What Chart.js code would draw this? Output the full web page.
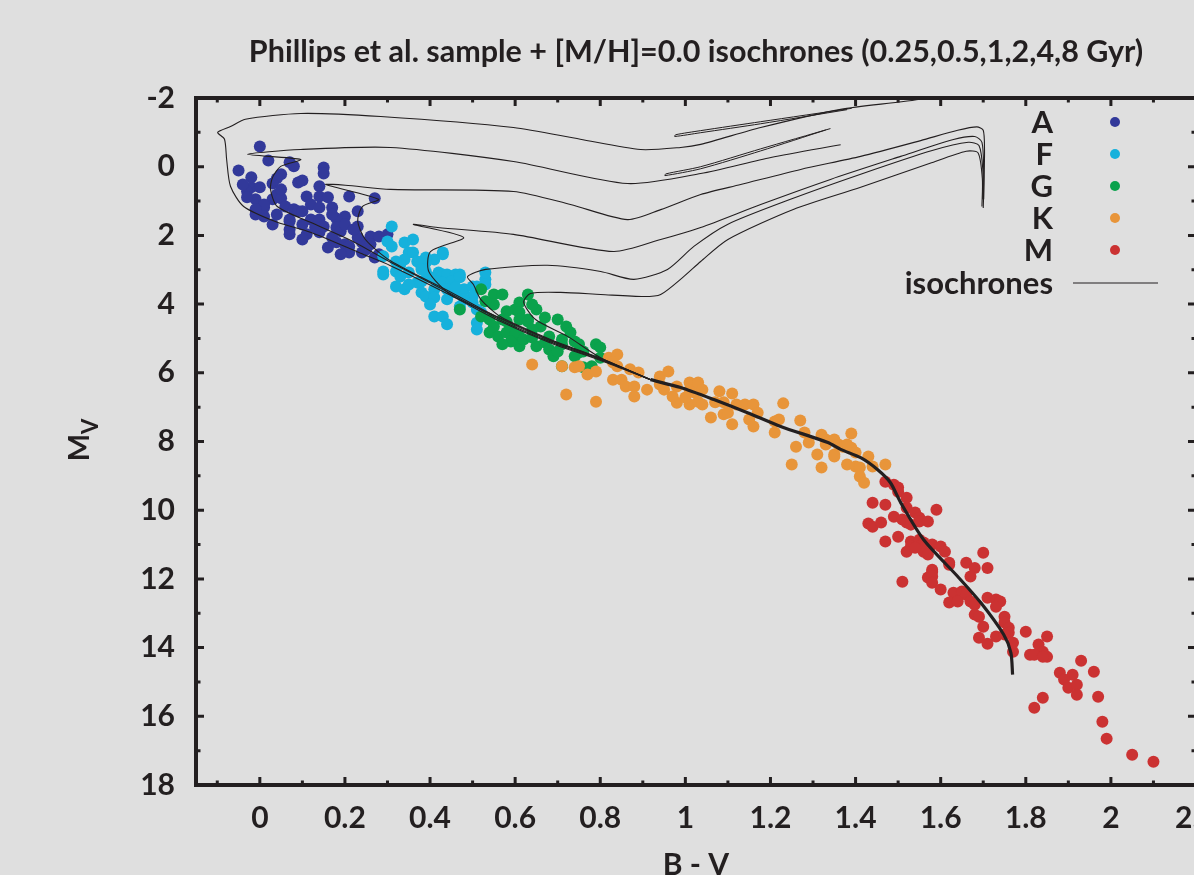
<!DOCTYPE html>
<html>
<head>
<meta charset="utf-8">
<script src="https://cdn.jsdelivr.net/npm/chart.js@4.4.1/dist/chart.umd.min.js"></script>
<style>
  html, body { margin: 0; padding: 0; background: #dfdfdf; overflow: hidden; }
  #wrap { width: 1260px; height: 900px; }
</style>
</head>
<body>
<div id="wrap"><canvas id="hr" width="1260" height="900"></canvas></div>
<script>
// axis tick labels
const xTickValues = [0, 0.2, 0.4, 0.6, 0.8, 1, 1.2, 1.4, 1.6, 1.8, 2, 2.2];
const yTickValues = [-2, 0, 2, 4, 6, 8, 10, 12, 14, 16, 18];

// spectral classes (legend order) and their colours
const classLabels = ['A', 'F', 'G', 'K', 'M'];
const classColors = ['#32399a', '#16b1dc', '#0aa24c', '#e8953a', '#cb3232'];

// stars: [B-V, Mv]
const starsA = [[0.00,-0.59],[0.02,-0.18],[-0.05,0.11],[0.07,-0.13],[0.08,-0.01],[0.05,0.22],[0.04,0.34],[0.03,0.49],[0.09,0.46],[0.10,0.40],
  [0.15,0.02],[0.15,0.20],[0.14,0.57],[-0.02,0.60],[0.00,0.60],[-0.03,0.72],[-0.01,0.95],[0.03,0.95],[0.04,0.81],[0.05,0.92],
  [0.11,0.87],[0.12,1.10],[0.14,0.87],[0.16,0.89],[0.21,0.87],[0.27,0.92],[0.06,1.16],[0.08,1.24],[0.09,1.30],[0.14,1.19],
  [0.17,1.19],[0.23,1.30],[-0.01,1.39],[0.01,1.45],[0.20,1.45],[0.12,1.54],[0.14,1.54],[0.18,1.51],[0.03,1.68],[0.15,1.74],
  [0.18,1.77],[0.19,1.88],[0.23,1.74],[0.07,1.97],[0.07,1.83],[0.11,1.97],[0.14,1.91],[0.16,2.35],[0.18,2.20],[0.20,2.26],
  [0.21,2.32],[0.24,2.20],[0.26,2.03],[0.24,2.50],[0.27,2.64],[0.21,2.50],[0.28,2.03],[0.10,1.68],[0.01,1.19],[0.04,1.39],
  [0.07,1.59],[0.17,2.06],[0.23,2.06],[-0.03,0.89],[0.10,2.12],[0.05,0.66],[-0.02,0.31],[-0.04,0.52],[0.26,2.26],[0.28,2.55],
  [0.30,1.97],[0.01,1.10],[-0.01,1.24],[0.07,1.54],[0.10,1.30],[0.13,1.77],[0.20,1.68],[0.17,1.39],[0.22,1.83],[0.25,2.41],[0.19,2.55]];

const starsF = [[0.31,1.74],[0.34,2.21],[0.36,2.12],[0.30,2.18],[0.31,2.32],[0.35,2.50],[0.36,2.50],[0.34,2.70],[0.33,2.85],[0.29,2.61],
  [0.29,3.05],[0.29,3.14],[0.32,3.05],[0.33,3.20],[0.35,3.08],[0.32,3.49],[0.34,3.57],[0.43,2.50],[0.43,2.55],[0.41,2.70],
  [0.39,2.79],[0.38,2.93],[0.39,3.05],[0.37,3.37],[0.38,3.34],[0.42,3.08],[0.43,3.14],[0.44,3.14],[0.46,3.14],[0.47,3.14],
  [0.42,3.34],[0.43,3.37],[0.45,3.34],[0.47,3.22],[0.38,3.66],[0.39,3.78],[0.41,3.57],[0.41,3.81],[0.44,3.57],[0.45,3.66],
  [0.47,3.66],[0.48,3.57],[0.50,3.49],[0.51,3.49],[0.53,3.28],[0.50,3.78],[0.50,3.95],[0.51,4.16],[0.52,4.24],[0.51,4.54],
  [0.51,4.74],[0.41,4.36],[0.43,4.36],[0.44,4.59],[0.47,4.07],[0.39,2.64],[0.53,3.08],[0.53,3.43],[0.32,2.76],[0.37,2.76],
  [0.40,3.22],[0.35,3.43],[0.46,3.51],[0.48,3.86],[0.44,3.86],[0.40,4.01],[0.38,2.99]];

const starsG = [[0.52,3.57],[0.55,3.72],[0.57,3.72],[0.63,3.72],[0.65,4.16],[0.61,3.95],[0.60,4.16],[0.47,4.16],[0.52,4.36],[0.54,4.45],
  [0.55,4.65],[0.54,4.83],[0.56,4.94],[0.59,4.74],[0.61,4.94],[0.63,4.45],[0.66,4.65],[0.68,4.94],[0.61,5.23],[0.65,5.23],
  [0.57,4.45],[0.58,4.21],[0.58,4.51],[0.61,4.24],[0.61,4.45],[0.63,4.51],[0.58,4.83],[0.60,4.88],[0.59,5.09],[0.62,5.03],
  [0.64,4.97],[0.64,4.74],[0.67,5.12],[0.68,5.32],[0.69,5.52],[0.70,5.38],[0.71,5.03],[0.72,4.65],[0.73,4.83],[0.74,5.09],
  [0.75,5.17],[0.75,5.41],[0.74,5.52],[0.71,5.81],[0.76,5.84],[0.78,5.81],[0.79,5.17],[0.80,5.26],[0.80,5.56],[0.55,4.01],
  [0.53,3.92],[0.64,4.01],[0.70,4.45],[0.67,4.39],[0.76,5.38],[0.71,5.17],[0.57,5.17]];

const starsK = [[0.64,5.76],[0.71,5.81],[0.74,5.84],[0.75,5.81],[0.72,6.63],[0.79,6.84],[0.77,6.05],[0.79,5.96],[0.82,5.56],[0.84,5.47],
  [0.83,5.70],[0.84,5.81],[0.83,6.20],[0.85,6.20],[0.86,6.40],[0.88,6.40],[0.87,5.90],[0.89,5.99],[0.88,6.69],[0.94,6.11],
  [0.96,5.96],[0.94,6.34],[0.95,6.49],[0.98,6.40],[1.01,6.28],[1.01,6.49],[1.02,6.57],[0.98,6.87],[1.01,6.92],[1.03,6.84],
  [0.97,6.69],[1.03,6.28],[1.04,6.49],[1.00,6.72],[1.04,6.92],[1.08,6.54],[1.11,6.60],[1.06,7.30],[1.07,6.86],[1.09,6.86],
  [1.09,7.21],[1.10,7.16],[1.11,7.50],[1.12,6.92],[1.14,6.92],[1.16,6.92],[1.17,7.16],[1.15,7.36],[1.16,7.56],[1.21,7.42],
  [1.21,7.74],[1.22,7.36],[1.23,6.89],[1.27,7.39],[1.28,7.74],[1.26,8.15],[1.25,8.67],[1.29,8.03],[1.31,8.38],[1.32,7.80],
  [1.33,7.94],[1.35,7.94],[1.36,8.09],[1.33,8.09],[1.39,7.77],[1.37,8.15],[1.39,8.18],[1.35,8.38],[1.35,8.44],[1.40,8.32],
  [1.38,8.67],[1.40,8.73],[1.32,8.76],[1.41,8.76],[1.41,9.02],[1.43,8.44],[1.44,8.73],[1.38,8.09],[1.42,9.20],[1.47,8.67],[0.91,6.49]];

const starsM = [[1.47,9.17],[1.49,9.26],[1.50,9.34],[1.50,9.46],[1.52,9.64],[1.44,9.78],[1.47,9.84],[1.52,9.93],[1.59,9.99],[1.54,10.07],
  [1.55,10.22],[1.49,10.19],[1.51,10.27],[1.52,10.36],[1.53,10.42],[1.43,10.39],[1.44,10.48],[1.46,10.36],[1.55,10.33],[1.57,10.33],
  [1.50,10.77],[1.47,10.91],[1.53,10.91],[1.53,11.06],[1.55,10.86],[1.56,10.94],[1.52,11.21],[1.56,11.21],[1.57,11.29],[1.58,11.00],
  [1.60,11.06],[1.61,11.21],[1.62,11.53],[1.58,11.73],[1.66,11.53],[1.68,11.68],[1.71,11.68],[1.70,11.24],[1.54,11.09],[1.57,11.96],
  [1.67,11.93],[1.62,11.59],[1.58,11.79],[1.58,11.93],[1.58,12.11],[1.51,12.08],[1.60,12.31],[1.63,12.40],[1.65,12.37],[1.66,12.46],
  [1.62,12.69],[1.64,12.66],[1.67,12.66],[1.68,12.75],[1.71,12.55],[1.73,12.60],[1.74,12.66],[1.73,12.81],[1.68,13.04],[1.69,13.10],
  [1.75,13.10],[1.75,13.27],[1.70,13.39],[1.76,13.42],[1.76,13.57],[1.80,13.54],[1.73,13.68],[1.69,13.71],[1.71,13.89],[1.77,13.86],
  [1.77,14.12],[1.83,13.91],[1.84,14.12],[1.85,13.68],[1.81,14.21],[1.82,14.21],[1.85,14.27],[1.84,14.27],[1.88,14.73],[1.84,15.46],
  [1.82,15.75],[1.93,14.38],[1.96,14.70],[1.91,14.79],[1.89,14.93],[1.90,15.17],[1.92,15.08],[1.92,15.37],[1.97,15.43],[1.98,16.16],
  [1.99,16.65],[2.05,17.12],[2.10,17.32],[1.75,13.62]];

// isochrones: lower main sequence where all six ages overlap, then one upper part per age
const msLower = [[1.769,14.79],[1.765,14.15],[1.748,13.62],[1.694,12.69],[1.640,11.93],[1.560,10.86],[1.506,9.78],[1.482,9.20],
  [1.452,8.82],[1.412,8.47],[1.365,8.23],[1.335,8.03],[1.224,7.56],[1.146,7.16],[1.067,6.78],[0.989,6.43],[0.918,6.20]];

const iso025 = [[0.918,6.20],[0.801,5.64],[0.683,5.13],[0.566,4.51],[0.448,3.74],[0.307,2.88],[0.237,2.52],[0.119,1.91],[0.041,1.62],[-0.038,1.16],
  [-0.069,0.57],[-0.078,-0.21],[-0.083,-0.80],[-0.099,-1.00],[-0.069,-1.17],[-0.034,-1.38],[0.096,-1.55],[0.284,-1.46],[0.596,-1.14],
  [0.753,-0.80],[0.895,-0.50],[0.989,-0.56],[1.036,-0.65],[1.177,-1.14],[1.365,-1.67],[1.558,-1.98],[1.647,-2.31]];
const iso05 = [[0.918,6.20],[0.801,5.62],[0.683,5.10],[0.566,4.47],[0.448,3.69],[0.307,2.78],[0.213,2.14],[0.119,1.62],[0.041,1.16],[0.025,0.66],
  [0.030,0.31],[0.049,-0.01],[0.096,-0.21],[-0.029,-0.36],[0.096,-0.50],[0.307,-0.56],[0.596,-0.15],[0.864,0.49],[1.036,0.20],
  [1.201,-0.27],[1.365,-0.64]];
const iso1 = [[0.918,6.20],[0.801,5.60],[0.683,5.07],[0.566,4.43],[0.448,3.65],[0.307,2.74],[0.248,2.12],[0.230,1.59],[0.241,1.16],[0.279,0.95],
  [0.155,0.52],[0.201,0.54],[0.307,0.66],[0.596,0.72],[0.730,1.10],[0.864,1.54],[0.942,1.25],[1.036,0.81],[1.130,0.52],[1.271,0.08],
  [1.412,-0.30],[1.553,-0.76],[1.640,-1.06],[1.685,-1.16],[1.700,-1.06],[1.703,-0.50],[1.702,0.37],[1.700,1.20]];
const iso2 = [[0.918,6.20],[0.801,5.59],[0.683,5.05],[0.566,4.41],[0.448,3.72],[0.397,3.05],[0.401,2.47],[0.479,2.06],[0.361,1.68],[0.418,1.77],
  [0.596,1.97],[0.831,2.47],[0.942,2.12],[1.036,1.77],[1.177,1.10],[1.341,0.37],[1.506,-0.30],[1.630,-0.79],[1.680,-0.88],
  [1.697,-0.71],[1.701,0.08],[1.701,0.95]];
const iso4 = [[0.918,6.20],[0.801,5.58],[0.683,5.03],[0.566,4.37],[0.519,3.86],[0.502,3.43],[0.488,3.20],[0.531,2.99],[0.676,2.87],[0.801,3.05],
  [0.879,3.28],[0.958,2.99],[1.020,2.32],[1.099,1.68],[1.247,0.95],[1.412,0.22],[1.580,-0.47],[1.665,-0.71],[1.690,-0.62],
  [1.699,0.08],[1.699,0.95]];
const iso8 = [[0.918,6.20],[0.801,5.56],[0.723,4.94],[0.648,4.45],[0.620,3.95],[0.636,3.69],[0.707,3.66],[0.801,3.72],[0.902,3.78],[0.942,3.72],
  [0.996,3.20],[1.036,2.76],[1.100,2.12],[1.255,1.24],[1.412,0.60],[1.575,-0.10],[1.660,-0.45],[1.688,-0.40],[1.698,0.37],[1.697,1.16]];
// helium-burning loops of the two youngest isochrones
const loop025 = [[1.391,-1.70],[1.177,-1.31],[1.036,-1.05],[0.977,-0.93],[0.975,-0.88],[1.036,-0.99],[1.177,-1.25],[1.380,-1.66]];
const loop05 = [[1.341,-1.11],[1.177,-0.52],[1.036,0.00],[0.954,0.21],[0.952,0.26],[1.036,0.06],[1.177,-0.46],[1.330,-1.07]];

const ink = '#231f20';
const fontFamily = "Lato, 'Open Sans', sans-serif";

const toXY = (pts) => pts.map(([x, y]) => ({x, y}));

const starSets = [starsA, starsF, starsG, starsK, starsM].map((pts, i) => ({
  label: classLabels[i],
  data: toXY(pts),
  backgroundColor: classColors[i],
  borderWidth: 0,
  pointRadius: 6,
  pointHoverRadius: 6,
  order: 10 - i,
}));

const lineSet = (pts, width) => ({
  label: 'isochrones',
  data: toXY(pts),
  showLine: true,
  pointRadius: 0,
  borderColor: ink,
  borderWidth: width,
  tension: 0.25,
  order: 0,
});

const isoSets = [lineSet(msLower, 3.2)]
  .concat([iso025, iso05, iso1, iso2, iso4, iso8].map((pts) => lineSet(pts, 1.1)))
  .concat([loop025, loop05].map((pts) => lineSet(pts, 1)));

// inward ticks, frame, legend and the M_V axis title
const decorations = {
  id: 'decorations',
  afterDatasetsDraw(chart) {
    const {ctx, chartArea: a, scales: {x, y}} = chart;
    ctx.save();
    ctx.strokeStyle = ink;
    ctx.lineWidth = 3;
    ctx.beginPath();
    for (let i = -1; i <= 22; i++) {
      const px = x.getPixelForValue(i / 10);
      const len = i % 2 === 0 ? 8 : 4.5;
      ctx.moveTo(px, a.bottom); ctx.lineTo(px, a.bottom - len);
      ctx.moveTo(px, a.top); ctx.lineTo(px, a.top + len);
    }
    for (let v = -1; v <= 17; v++) {
      const py = y.getPixelForValue(v);
      const len = v % 2 === 0 ? 8 : 4.5;
      ctx.moveTo(a.left, py); ctx.lineTo(a.left + len, py);
      ctx.moveTo(a.right, py); ctx.lineTo(a.right - len, py);
    }
    ctx.stroke();
    ctx.lineWidth = 4;
    ctx.strokeRect(a.left, a.top, a.right - a.left, a.bottom - a.top);

    // legend
    const rowY = [123, 155, 187, 219, 251, 284];
    ctx.font = 'bold 31px ' + fontFamily;
    ctx.textAlign = 'right';
    ctx.textBaseline = 'middle';
    classLabels.concat(['isochrones']).forEach((lab, i) => {
      ctx.fillStyle = ink;
      ctx.fillText(lab, 1053, rowY[i]);
      if (i < classLabels.length) {
        ctx.fillStyle = classColors[i];
        ctx.beginPath();
        ctx.arc(1115, rowY[i] - 1, 5, 0, Math.PI * 2);
        ctx.fill();
      } else {
        ctx.lineWidth = 1.2;
        ctx.beginPath();
        ctx.moveTo(1073, rowY[i] - 1); ctx.lineTo(1158, rowY[i] - 1);
        ctx.stroke();
      }
    });

    // y axis title: M with subscript V
    ctx.translate(89, 440);
    ctx.rotate(-Math.PI / 2);
    ctx.textAlign = 'left';
    ctx.textBaseline = 'alphabetic';
    ctx.fillStyle = ink;
    ctx.font = 'bold 29px ' + fontFamily;
    const wM = ctx.measureText('M').width;
    ctx.font = 'bold 22px ' + fontFamily;
    const wV = ctx.measureText('V').width;
    const start = -(wM + wV) / 2;
    ctx.font = 'bold 29px ' + fontFamily;
    ctx.fillText('M', start, 0);
    ctx.font = 'bold 22px ' + fontFamily;
    ctx.fillText('V', start + wM, 9);
    ctx.restore();
  }
};

const titleSize = 30.5;
const titleTop = 52 - titleSize * 0.6;

new Chart(document.getElementById('hr'), {
  type: 'scatter',
  data: { datasets: starSets.concat(isoSets) },
  options: {
    responsive: false,
    animation: false,
    events: [],
    layout: { padding: { left: 0, right: 64, top: 0, bottom: 0 } },
    plugins: {
      legend: { display: false },
      tooltip: { enabled: false },
      title: {
        display: true,
        fullSize: false,
        text: 'Phillips et al. sample + [M/H]=0.0 isochrones (0.25,0.5,1,2,4,8 Gyr)',
        color: ink,
        font: { family: fontFamily, size: titleSize, weight: 'bold' },
        padding: { top: titleTop, bottom: 98 - titleTop - titleSize * 1.2 },
      },
    },
    scales: {
      x: {
        type: 'linear',
        min: -0.15,
        max: 2.2,
        afterFit: (s) => { s.height = 115; },
        afterBuildTicks: (s) => { s.ticks = xTickValues.map((v) => ({value: v})); },
        grid: { display: false, drawTicks: false },
        border: { display: false },
        ticks: {
          autoSkip: false, maxRotation: 0, padding: 15, color: ink,
          font: { family: fontFamily, size: 30, weight: 'bold' },
          callback: (v) => String(Math.round(v * 10) / 10),
        },
        title: {
          display: true, text: 'B - V', color: ink,
          font: { family: fontFamily, size: 30, weight: 'bold' },
          padding: { top: 0, bottom: 17 },
        },
      },
      y: {
        type: 'linear',
        reverse: true,
        min: -2,
        max: 18,
        afterFit: (s) => { s.width = 196; },
        afterBuildTicks: (s) => { s.ticks = yTickValues.map((v) => ({value: v})); },
        grid: { display: false, drawTicks: false },
        border: { display: false },
        ticks: {
          autoSkip: false, padding: 21, color: ink,
          font: { family: fontFamily, size: 30, weight: 'bold' },
        },
      },
    },
  },
  plugins: [decorations],
});
</script>
</body>
</html>
